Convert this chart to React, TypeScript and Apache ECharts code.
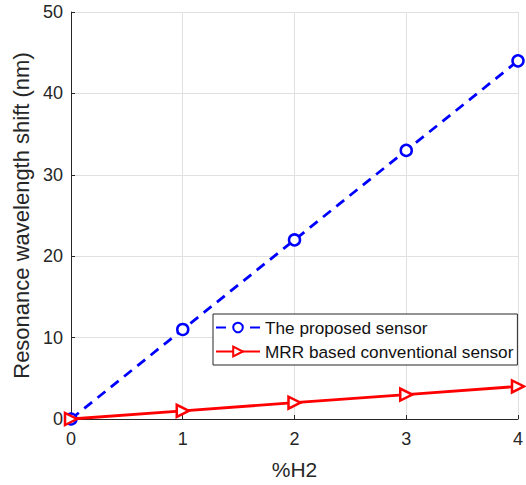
import React, { useEffect, useRef } from "react";
import * as echarts from "echarts";

const xValues = [0, 1, 2, 3, 4];
const proposedSensor = [0, 11, 22, 33, 44];
const conventionalSensor = [0, 1, 2, 3, 4];
const seriesNames = ["The proposed sensor", "MRR based conventional sensor"];

export default function App() {
  const ref = useRef<HTMLDivElement>(null);
  useEffect(() => {
    if (!ref.current) return;
    const chart = echarts.init(ref.current, null, { renderer: "svg" });
    const font = "'Liberation Sans', Arial, Helvetica, sans-serif";
    chart.setOption({
      animation: false,
      backgroundColor: "#ffffff",
      textStyle: { fontFamily: font },
      grid: { left: 71, right: 8, top: 12, bottom: 65, containLabel: false },
      legend: {
        orient: "vertical",
        left: 213,
        top: 314,
        backgroundColor: "#ffffff",
        borderColor: "#262626",
        borderWidth: 1,
        borderRadius: 0,
        padding: [5, 4, 5, 2],
        itemGap: 7,
        itemWidth: 44,
        itemHeight: 12,
        textStyle: { fontSize: 17.2, color: "#111111", fontFamily: font },
        data: seriesNames,
      },
      xAxis: {
        type: "value",
        min: 0,
        max: 4,
        interval: 1,
        name: "%H2",
        nameLocation: "middle",
        nameGap: 40,
        nameTextStyle: { fontSize: 21, color: "#262626", fontFamily: font },
        axisLine: { show: true, onZero: false, lineStyle: { color: "#262626", width: 1 } },
        axisTick: { show: true, inside: true, length: 4, lineStyle: { color: "#262626" } },
        axisLabel: { fontSize: 18, color: "#262626", margin: 11, fontFamily: font },
        splitLine: { show: true, lineStyle: { color: "#e0e0e0", width: 1 } },
      },
      yAxis: {
        type: "value",
        min: 0,
        max: 50,
        interval: 10,
        name: "Resonance wavelength shift (nm)",
        nameLocation: "middle",
        nameGap: 33,
        nameTextStyle: { fontSize: 22, color: "#262626", fontFamily: font },
        axisLine: { show: true, onZero: false, lineStyle: { color: "#262626", width: 1 } },
        axisTick: { show: true, inside: true, length: 4, lineStyle: { color: "#262626" } },
        axisLabel: { fontSize: 18, color: "#262626", margin: 8, fontFamily: font },
        splitLine: { show: true, lineStyle: { color: "#e0e0e0", width: 1 } },
      },
      series: [
        {
          name: seriesNames[0],
          type: "line",
          data: xValues.map((x, i) => [x, proposedSensor[i]]),
          symbol: "circle",
          symbolSize: 11,
          showAllSymbol: true,
          lineStyle: { color: "#0000ff", width: 2.8, type: [10, 7] },
          itemStyle: { color: "#ffffff", borderColor: "#0000ff", borderWidth: 2.5 },
          z: 2,
        },
        {
          name: seriesNames[1],
          type: "line",
          data: xValues.map((x, i) => [x, conventionalSensor[i]]),
          symbol: "triangle",
          symbolRotate: -90,
          symbolSize: 12,
          showAllSymbol: true,
          lineStyle: { color: "#ff0000", width: 2.8, type: "solid" },
          itemStyle: { color: "#ffffff", borderColor: "#ff0000", borderWidth: 2.5 },
          z: 3,
        },
      ],
    });
    return () => chart.dispose();
  }, []);
  return (
    <div
      ref={ref}
      style={{ position: "fixed", left: 0, top: 0, width: 526, height: 485 }}
    />
  );
}
